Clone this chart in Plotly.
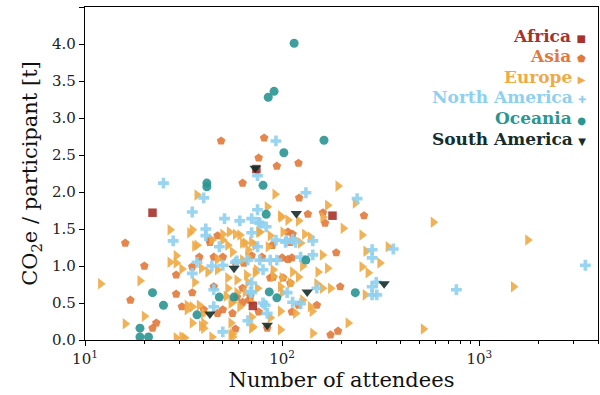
import plotly.graph_objects as go

# ---------------- data ----------------
africa_x = [22, 74, 180, 71]
africa_y = [1.72, 2.31, 1.68, 0.46]

asia_x = [16, 20, 17, 31, 29, 29, 23, 22, 35, 35, 38, 43, 47, 45, 50, 40, 47, 63, 59, 56,
          50, 45, 49, 81, 76, 94, 121, 122, 135, 161, 165, 260, 107, 113, 110, 89, 188, 79, 100, 107,
          64, 90, 110, 197, 63, 68, 150, 121, 112, 84, 176, 192, 43, 112, 58, 70, 87, 101, 63, 76,
          58, 69]
asia_y = [1.31, 1.00, 0.54, 0.45, 0.62, 0.88, 0.23, 0.16, 0.99, 0.64, 1.12, 1.36, 1.41, 1.12, 1.12, 0.41, 0.36, 2.12, 0.58, 0.36,
          0.41, 0.72, 2.69, 2.73, 2.46, 2.35, 2.39, 1.92, 1.70, 1.72, 1.58, 1.68, 1.46, 1.43, 1.32, 1.28, 1.18, 1.12, 1.11, 1.09,
          1.04, 0.85, 0.77, 0.72, 0.70, 0.54, 0.47, 0.47, 0.38, 0.16, 0.07, 0.12, 1.32, 1.11, 1.04, 1.14, 0.84, 0.84, 0.51, 0.38,
          0.15, 0.59]

europe_x = [12, 19, 27, 27, 29, 29, 20, 16, 31, 29, 31, 33, 35, 36, 34, 35, 37, 36, 35, 40,
            40, 32, 44, 42, 47, 47, 50, 53, 56, 54, 61, 65, 70, 67, 63, 53, 59, 67, 73, 53,
            59, 65, 75, 55, 61, 70, 56, 71, 55, 192, 92, 170, 235, 584, 84, 99, 121, 161, 204, 254,
            345, 266, 313, 254, 273, 170, 152, 127, 160, 130, 139, 124, 101, 77, 85, 73, 67, 90, 100, 121,
            110, 100, 160, 176, 150, 264, 127, 139, 142, 98, 70, 143, 216, 520, 117, 1760, 1490, 56, 98, 107,
            37, 44, 50, 58, 63, 76, 87, 39, 66, 74, 90, 98, 113, 33, 38, 40, 52, 56, 70, 87,
            39, 55, 98]
europe_y = [0.76, 0.80, 1.49, 1.05, 1.04, 1.14, 0.32, 0.22, 0.04, 0.03, 0.96, 0.41, 0.23, 1.27, 1.45, 1.49, 1.96, 0.78, 0.45, 0.23,
            0.16, 0.03, 0.04, 0.92, 1.09, 0.95, 1.35, 1.28, 1.19, 1.46, 1.42, 1.31, 1.32, 1.22, 1.08, 0.84, 0.81, 0.78, 0.91, 0.70,
            0.64, 0.65, 0.70, 0.50, 0.45, 0.31, 0.04, 0.18, 0.23, 2.08, 1.97, 1.82, 1.85, 1.59, 1.80, 1.66, 1.61, 1.66, 1.51, 1.42,
            1.26, 1.20, 1.04, 0.99, 0.91, 0.97, 0.92, 1.00, 1.15, 1.43, 1.39, 1.31, 1.46, 1.46, 1.26, 1.28, 1.12, 0.95, 0.84, 0.85,
            0.77, 0.64, 0.70, 0.70, 0.76, 0.61, 0.54, 0.45, 0.39, 0.39, 0.16, 0.09, 0.23, 0.15, 0.36, 1.35, 0.72, 0.08, 1.68, 1.62,
            1.28, 1.35, 1.43, 1.43, 1.31, 1.46, 1.41, 0.97, 0.88, 0.95, 0.86, 0.72, 0.92, 0.47, 0.47, 0.36, 0.59, 0.51, 0.51, 0.30,
            0.19, 0.07, 0.14]

namerica_x = [25, 40, 35, 41, 41, 28, 51, 61, 70, 70, 75, 76, 48, 37, 35, 44, 58, 50, 45, 50,
              67, 69, 75, 75, 132, 240, 83, 93, 105, 113, 143, 94, 124, 143, 77, 70, 80, 106, 113, 124,
              150, 286, 286, 366, 300, 286, 286, 302, 84, 765, 3450, 93, 77, 104, 117, 59, 67, 87, 80, 45,
              70, 82]
namerica_y = [2.12, 1.92, 1.73, 1.50, 1.41, 1.34, 1.64, 1.61, 1.64, 1.45, 1.76, 1.59, 1.26, 1.05, 0.90, 1.00, 1.05, 1.01, 0.45, 0.11,
              0.26, 0.65, 1.26, 2.22, 1.99, 1.91, 1.53, 1.35, 1.34, 1.36, 1.34, 1.08, 1.12, 1.15, 1.08, 0.77, 0.50, 0.64, 0.51, 0.49,
              0.70, 1.22, 1.11, 1.23, 0.78, 0.72, 0.61, 0.61, 0.36, 0.68, 1.01, 2.69, 1.58, 1.32, 1.32, 1.07, 1.08, 1.08, 0.95, 0.68,
              0.64, 0.47]

oceania_x = [115, 91, 85, 163, 102, 41.5, 41.5, 80, 83, 132, 86, 94, 235, 22, 25, 19, 19, 21, 37, 48, 57]
oceania_y = [4.01, 3.36, 3.28, 2.70, 2.53, 2.12, 2.07, 2.09, 1.70, 1.08, 0.65, 0.57, 0.64, 0.64, 0.47, 0.16, 0.04, 0.04, 0.34, 0.58, 0.58]

samerica_x = [73, 118, 57, 43, 134, 329, 84]
samerica_y = [2.32, 1.71, 0.97, 0.35, 0.65, 0.76, 0.20]

regions = ["Africa", "Asia", "Europe", "North America", "Oceania", "South America"]
colors = ["#a6322a", "#e2793a", "#f0aa45", "#8ed0f0", "#2a9591", "#142d2a"]
symbols = ["square", "pentagon", "triangle-right", "cross", "circle", "triangle-down"]
sizes = [8.5, 9, 10, 9, 9, 10]
glyphs = ["■", "⬟", "▶", "✚", "●", "▼"]
series = [(africa_x, africa_y), (asia_x, asia_y), (europe_x, europe_y),
          (namerica_x, namerica_y), (oceania_x, oceania_y), (samerica_x, samerica_y)]

x_ticks = [10, 100, 1000]
x_ticktext = ["10<sup>1</sup>", "10<sup>2</sup>", "10<sup>3</sup>"]
x_minor = [20, 30, 40, 50, 60, 70, 80, 90, 200, 300, 400, 500, 600, 700, 800, 900, 2000, 3000, 4000]
y_ticks = [0.0, 0.5, 1.0, 1.5, 2.0, 2.5, 3.0, 3.5, 4.0, 4.5]

FONT = "DejaVu Serif"

fig = go.Figure()
order = [1, 2, 3, 4, 0, 5]
for i in order:
    xs, ys = series[i]
    fig.add_trace(go.Scatter(
        x=xs, y=ys, mode="markers", name=regions[i],
        marker=dict(symbol=symbols[i], size=sizes[i], color=colors[i], opacity=0.9,
                    line=dict(width=0)),
        showlegend=False, cliponaxis=True,
    ))

# legend as right-aligned coloured text with the marker glyph on the right
for i, name in enumerate(regions):
    fig.add_annotation(
        xref="paper", yref="paper", x=0.98, y=(340 - (35.5 + 20.6 * i)) / 333,
        xanchor="right", yanchor="middle", showarrow=False,
        text=f"<b>{name}</b> <span style='font-size:10px'>{glyphs[i]}</span>",
        font=dict(family=FONT, size=17, color=colors[i]),
    )

axis_common = dict(showline=True, linecolor="black", linewidth=1.2, mirror=True,
                   ticks="outside", tickcolor="black", ticklen=5, tickwidth=1.2,
                   showgrid=False, zeroline=False, automargin=False,
                   tickfont=dict(family=FONT, size=15, color="#222"))

fig.update_xaxes(type="log", range=[1, 3.602], tickvals=x_ticks, ticktext=x_ticktext,
                 minor=dict(tickvals=x_minor, ticks="outside", ticklen=3, tickcolor="black", tickwidth=1),
                 title=dict(text="Number of attendees", font=dict(family=FONT, size=21, color="#111"), standoff=4),
                 **axis_common)
fig.update_yaxes(range=[0, 4.5], tickvals=y_ticks, tickformat=".1f",
                 title=dict(text="CO<sub>2</sub>e / participant [t]", font=dict(family=FONT, size=21, color="#111"), standoff=8),
                 **axis_common)

fig.update_layout(width=600, height=395, margin=dict(l=85, r=2, t=7, b=55),
                  plot_bgcolor="white", paper_bgcolor="white",
                  font=dict(family=FONT))

fig.write_html("out.html", config={"displayModeBar": False},
               post_script="document.body.style.margin='0';document.body.style.padding='0';")
